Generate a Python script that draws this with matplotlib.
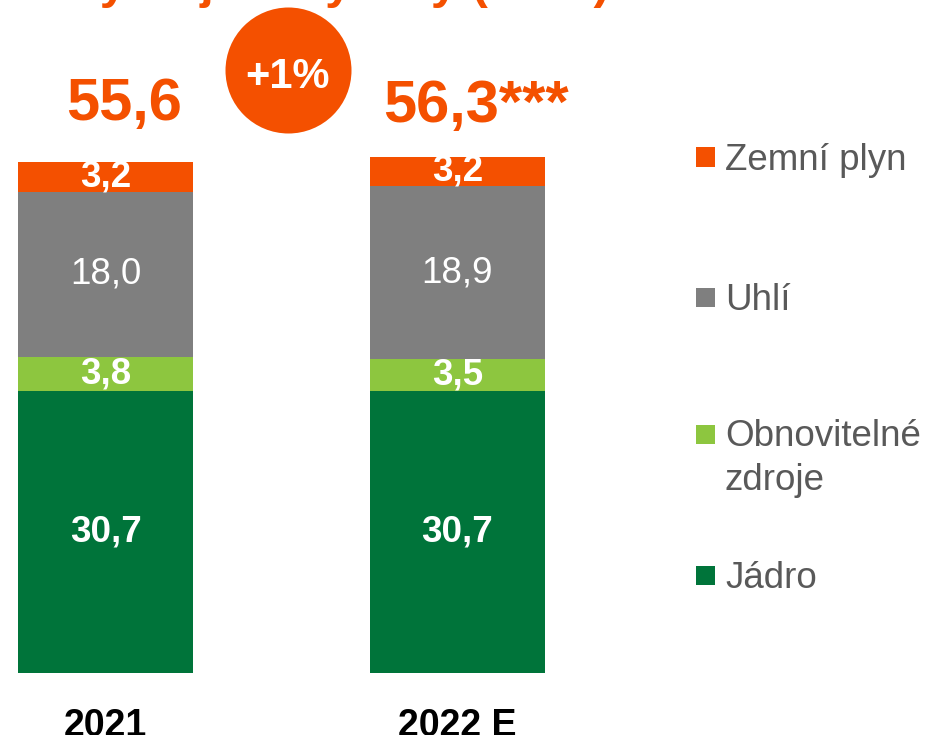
import matplotlib
matplotlib.use('Agg')
import matplotlib.pyplot as plt
from matplotlib.patches import Rectangle


# data
years    = ['2021', '2022 E']
sources  = ['Jádro', 'Obnovitelné\nzdroje', 'Uhlí', 'Zemní plyn']
jadro    = [30.7, 30.7]
obnov    = [3.8, 3.5]
uhli     = [18.0, 18.9]
plyn     = [3.2, 3.2]
totals   = ['55,6', '56,3***']
change   = '+1%'
title    = 'Očekávaný objem výroby (TWh)'

# styling
orange = '#F45000'
colors = ['#00743A', '#8DC63F', '#7F7F7F', orange]
weights = ['bold', 'bold', 'normal', 'bold']
plt.rcParams['font.family'] = ['Liberation Sans', 'DejaVu Sans']

W, H   = 925, 735
px_u   = 9.17      # pixels per TWh
px_x   = 352.0     # pixels between bar centres
base_y = 673       # pixel row of bar bottoms
x0     = 105.5     # pixel column of first bar centre

fig = plt.figure(figsize=(W / 100, H / 100), dpi=100)
ax  = fig.add_axes([0, (H - base_y) / H, 1, base_y / H])
ax.set_xlim(-x0 / px_x, (W - x0) / px_x)
ax.set_ylim(0, base_y / px_u)
for s in ax.spines.values():
  s.set_visible(False)
ax.set_yticks([])

x = list(range(len(years)))
bottom = [0.0] * len(years)
for vals, col, wt in zip([jadro, obnov, uhli, plyn], colors, weights):
  bars = ax.bar(x, vals, width=175 / px_x, bottom=bottom, color=col)
  ax.bar_label(bars, fmt=lambda v: f'{v:.1f}'.replace('.', ','),
               label_type='center', color='white', fontsize=26.5, fontweight=wt)
  bottom = [b + v for b, v in zip(bottom, vals)]

ax.set_xticks(x, years, fontsize=27, fontweight='bold', color='black')
ax.tick_params(axis='x', length=0, pad=25)

# totals above bars
tot_y = [(base_y - 120) / px_u, (base_y - 122) / px_u]
for xi, t, ty in zip(x, totals, tot_y):
  ax.text(xi + 0.052, ty, t, ha='center', va='baseline', fontsize=43,
          fontweight='bold', color=orange)

# change bubble
cx, cy = 0.518, (base_y - 70) / px_u
ax.scatter([cx], [cy], s=(126 * 0.72) ** 2, color=orange, zorder=3,
           clip_on=False, linewidths=0)
ax.text(cx, (base_y - 88) / px_u, change, ha='center', va='baseline',
        fontsize=30, fontweight='bold', color='white', zorder=4)

# clipped title at the top edge
fig.text(-131 / W, 1 + 2 / H, title, ha='left', va='baseline', fontsize=35.2,
         fontweight='bold', color=orange)

# legend, drawn by hand (top entry first)
leg_y = [157, 297, 435, 575]
for lab, col, ly in zip(sources[::-1], colors[::-1], leg_y):
  fig.add_artist(Rectangle((696 / W, 1 - (ly + 9.5) / H), 19 / W, 19 / H,
                           transform=fig.transFigure, color=col, lw=0))
  nl = lab.count('\n')
  fig.text(725 / W, 1 - (ly + 13 + 42 * nl) / H, lab, ha='left',
           va='baseline', fontsize=26.5, color='#595959', linespacing=1.35)

fig.savefig('out.png', dpi=100)
